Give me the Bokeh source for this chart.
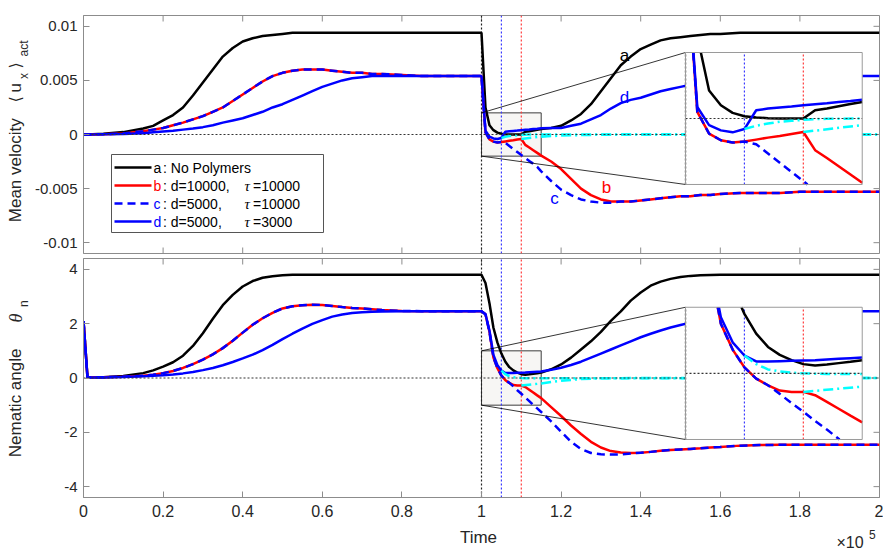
import math
import numpy as np
from bokeh.plotting import figure
from bokeh.models import Range1d, FixedTicker, LinearAxis, Label
from bokeh.layouts import column, row
from bokeh.embed import file_html
from bokeh.resources import INLINE

# ---------------- data ----------------
TIME = [0, 1000, 5000, 10000,
        15000, 17500, 20000, 22500, 25000, 27500, 30000, 32500, 35000, 37500, 40000, 42500,
        45000, 47500, 50000, 52500,
        55000, 57500, 60000, 62500, 65000, 67500, 70000, 72500, 75000,
        80000, 85000, 90000, 95000, 100000,
        101000, 102000, 103000, 104000, 105000, 106000, 107000, 108000, 109000, 110000,
        111000, 112000, 113000, 114000, 115000,
        117500, 120000, 122500, 125000, 127500, 130000, 132500, 135000, 137500, 140000,
        142500, 145000, 147500, 150000, 152500, 155000, 157500, 160000,
        165000, 170000, 175000, 180000, 185000, 190000, 195000, 200000]

VEL_A = [0, 0, 0.00007, 0.00022,
         0.00055, 0.0008, 0.0013, 0.0018, 0.0025, 0.0036, 0.0048, 0.006, 0.0072, 0.008, 0.0086, 0.0089,
         0.0091, 0.0092, 0.0093, 0.0094,
         0.0094, 0.0094, 0.0094, 0.0094, 0.0094, 0.0094, 0.0094, 0.0094, 0.0094,
         0.0094, 0.0094, 0.0094, 0.0094, 0.0094,
         0.0025, 0.00085, 0.0004, 0.00017, 0.00007, 0.00003, 0.00001, 0.0, 0.0, 0.0,
         0.00025, 0.0003, 0.00037, 0.00044, 0.0005,
         0.0006, 0.0008, 0.0013, 0.0019, 0.0028, 0.004, 0.0052, 0.0064, 0.0072, 0.0079,
         0.0083, 0.0087, 0.0089, 0.009, 0.0091, 0.0092, 0.0093, 0.0093,
         0.0094, 0.0094, 0.0094, 0.0094, 0.0094, 0.0094, 0.0094, 0.0094]
VEL_B = [0, 0, 0.00003, 0.0001,
         0.0003, 0.00045, 0.0006, 0.00085, 0.0011, 0.0014, 0.0017, 0.0021, 0.0025, 0.0031, 0.0037, 0.0043,
         0.0049, 0.0054, 0.0057, 0.0059,
         0.006, 0.006, 0.006, 0.0059, 0.0058, 0.0057, 0.0057, 0.0056, 0.0056,
         0.0055, 0.0054, 0.0054, 0.0054, 0.0054,
         0.0002, -0.00046, -0.00066, -0.00073, -0.0007, -0.00064, -0.00058, -0.00053, -0.00047, -0.00041,
         -0.00096, -0.0012, -0.00145, -0.0017, -0.00195,
         -0.0025, -0.0032, -0.0041, -0.005, -0.0056, -0.006, -0.0062, -0.0062, -0.0062, -0.0061,
         -0.006, -0.0059, -0.0058, -0.0057, -0.0057, -0.0056, -0.0056, -0.0055,
         -0.0054, -0.0054, -0.0054, -0.0053, -0.0053, -0.0053, -0.0053, -0.0053]
VEL_C = [0, 0, 0.00003, 0.0001,
         0.0003, 0.00045, 0.0006, 0.00085, 0.0011, 0.0014, 0.0017, 0.0021, 0.0025, 0.0031, 0.0037, 0.0043,
         0.0049, 0.0054, 0.0057, 0.0059,
         0.006, 0.006, 0.006, 0.0059, 0.0058, 0.0057, 0.0057, 0.0056, 0.0056,
         0.0055, 0.0054, 0.0054, 0.0054, 0.0054,
         0.0002, -0.00046, -0.00066, -0.00073, -0.0007, -0.00078, -0.00106, -0.00134, -0.00162, -0.0019,
         -0.00218, -0.00246, -0.0027, -0.003, -0.0034,
         -0.0043, -0.0051, -0.0056, -0.006, -0.0062, -0.0063, -0.0063, -0.0062, -0.0062, -0.0061,
         -0.006, -0.0059, -0.0058, -0.0057, -0.0057, -0.0056, -0.0056, -0.0055,
         -0.0054, -0.0054, -0.0054, -0.0053, -0.0053, -0.0053, -0.0053, -0.0053]
VEL_D = [0, 0, 0.00002, 0.00005,
         0.00012, 0.0002, 0.00028, 0.00035, 0.00045, 0.00055, 0.00068, 0.00085, 0.0011, 0.0013, 0.0015, 0.0018,
         0.0021, 0.0025, 0.0028, 0.0032,
         0.0036, 0.004, 0.0044, 0.0047, 0.005, 0.0052, 0.0053, 0.0054, 0.0054,
         0.0054, 0.0054, 0.0054, 0.0054, 0.0054,
         0.00035, -0.0002, -0.00036, -0.00042, -0.00032, 0.00025, 0.0003, 0.00033, 0.00036, 0.0004,
         0.00043, 0.00046, 0.0005, 0.00053, 0.00057,
         0.0006, 0.0006, 0.0008, 0.001, 0.0014, 0.0018, 0.0024, 0.0029, 0.0032, 0.0034,
         0.0037, 0.004, 0.0042, 0.0044, 0.0046, 0.0048, 0.005, 0.0051,
         0.0053, 0.0054, 0.0054, 0.0054, 0.0054, 0.0054, 0.0054, 0.0054]

ANG_A = [2.1, 0.03, 0.03, 0.07,
         0.18, 0.28, 0.42, 0.58, 0.82, 1.18, 1.65, 2.18, 2.68, 3.06, 3.37, 3.57,
         3.69, 3.75, 3.78, 3.8,
         3.8, 3.8, 3.8, 3.8, 3.8, 3.8, 3.8, 3.8, 3.8,
         3.8, 3.8, 3.8, 3.8, 3.8,
         3.5, 2.75, 1.85, 1.3, 0.9, 0.6, 0.4, 0.28, 0.2, 0.14,
         0.12, 0.135, 0.155, 0.175, 0.2,
         0.32, 0.5, 0.75, 1.05, 1.35, 1.7, 2.1, 2.45, 2.85, 3.15,
         3.4, 3.55, 3.65, 3.72, 3.76, 3.78, 3.79, 3.8,
         3.8, 3.8, 3.8, 3.8, 3.8, 3.8, 3.8, 3.8]
ANG_B = [2.1, 0.03, 0.03, 0.05,
         0.08, 0.12, 0.18, 0.26, 0.37, 0.51, 0.68, 0.87, 1.1, 1.37, 1.67, 1.96,
         2.2, 2.4, 2.56, 2.64,
         2.68, 2.7, 2.69, 2.65, 2.61, 2.58, 2.56, 2.53, 2.5,
         2.47, 2.46, 2.46, 2.46, 2.46,
         2.35, 1.7, 0.75, 0.36, 0.09, -0.08, -0.18, -0.26, -0.28, -0.28,
         -0.33, -0.43, -0.535, -0.64, -0.74,
         -1.07, -1.4, -1.75, -2.06, -2.35, -2.56, -2.69, -2.74, -2.76, -2.75,
         -2.72, -2.68, -2.65, -2.63, -2.61, -2.59, -2.56, -2.54,
         -2.49, -2.47, -2.46, -2.46, -2.46, -2.46, -2.46, -2.46]
ANG_C = [2.1, 0.03, 0.03, 0.05,
         0.08, 0.12, 0.18, 0.26, 0.37, 0.51, 0.68, 0.87, 1.1, 1.37, 1.67, 1.96,
         2.2, 2.4, 2.56, 2.64,
         2.68, 2.7, 2.69, 2.65, 2.61, 2.58, 2.56, 2.53, 2.5,
         2.47, 2.46, 2.46, 2.46, 2.46,
         2.35, 1.7, 0.75, 0.36, 0.09, -0.08, -0.18, -0.31, -0.45, -0.58,
         -0.72, -0.85, -0.99, -1.12, -1.25,
         -1.6, -1.98, -2.35, -2.62, -2.76, -2.81, -2.82, -2.81, -2.78, -2.75,
         -2.72, -2.68, -2.65, -2.63, -2.61, -2.59, -2.56, -2.54,
         -2.49, -2.47, -2.46, -2.46, -2.46, -2.46, -2.46, -2.46]
ANG_D = [2.1, 0.02, 0.02, 0.04,
         0.06, 0.08, 0.1, 0.13, 0.17, 0.22, 0.29, 0.37, 0.47, 0.59, 0.72, 0.86,
         1.03, 1.22, 1.43, 1.63,
         1.82, 1.99, 2.13, 2.26, 2.34, 2.39, 2.42, 2.44, 2.45,
         2.46, 2.46, 2.46, 2.46, 2.46,
         2.35, 1.75, 0.85, 0.47, 0.27, 0.18, 0.18, 0.185, 0.19, 0.195,
         0.2, 0.21, 0.22, 0.23, 0.24,
         0.3, 0.38, 0.48, 0.6, 0.75, 0.9, 1.05, 1.2, 1.35, 1.5,
         1.63, 1.75, 1.86, 1.95, 2.04, 2.12, 2.19, 2.25,
         2.35, 2.41, 2.44, 2.46, 2.46, 2.46, 2.46, 2.46]

# cyan continuation curves
TIME_CY1 = [105000, 106000, 107000, 108000, 109000, 110000, 111000, 112000, 115000, 200000]
VEL_CY1 = [-0.00032, -0.00022, -0.00015, -0.0001, -0.00007, -0.00004, -0.00002, -0.00001, 0.0, 0.0]
ANG_CY1 = [0.27, 0.14, 0.06, 0.03, 0.01, 0.0, -0.005, -0.01, -0.01, 0.0]
TIME_CY2 = [110000, 115000, 120000, 125000, 130000, 140000, 200000]
VEL_CY2 = [-0.00041, -0.0002, -0.0001, -0.00005, -0.00002, 0.0, 0.0]
ANG_CY2 = [-0.28, -0.2, -0.1, -0.04, -0.01, 0.0, 0.0]

# switching times (vertical dotted markers) and zoom windows
T_MARKS = [100000, 105000, 110000]
ZOOM_T = [100000, 115000]
ZOOM_VEL = [-0.002, 0.002]
ZOOM_ANG = [-1.0, 1.0]

X_TICKS = [0, 20000, 40000, 60000, 80000, 100000, 120000, 140000, 160000, 180000, 200000]
X_TICK_LABELS = ["0", "0.2", "0.4", "0.6", "0.8", "1", "1.2", "1.4", "1.6", "1.8", "2"]
VEL_TICKS = [-0.01, -0.005, 0.0, 0.005, 0.01]
VEL_TICK_LABELS = ["-0.01", "-0.005", "0", "0.005", "0.01"]
ANG_TICKS = [-4, -2, 0, 2, 4]
ANG_TICK_LABELS = ["-4", "-2", "0", "2", "4"]

LEGEND_LETTERS = ["a", "b", "c", "d"]
LEGEND_TEXT = [": No Polymers", ": d=10000,", ": d=5000,", ": d=5000,"]
LEGEND_TAU = [None, "=10000", "=10000", "=3000"]

# ---------------- styles / layout ----------------
X_RANGE = (0, 200000)
VEL_RANGE = (-0.011, 0.011)
ANG_RANGE = (-4.4, 4.4)
FRAME_W = 796
TOP_H = 238
BOT_H = 239
LEFT_W = 31
PAGE_FRAME_LEFT = 82
TOP_FRAME_TOP = 15
P1_H = 15 + TOP_H + 2
P2_H = 3 + BOT_H + 30
STRIP_H = 28
INSET_FX = (0.7563, 0.9783)
INSET_FY_TOP = (0.29, 0.8445)
INSET_FY_BOT = (0.2427, 0.796)
TICK_PX = 6

AX_COLOR = "#8c8c8c"
TXT = "#262626"
FONT = "Liberation Sans"
SERIES_STYLE = [("#000000", "solid"), ("#ff0000", "solid"), ("#0000ff", "8 5"), ("#0000ff", "solid")]
CYAN = "#00ffff"
CYAN_DASH = "10 4 2 4"
MARK_COLORS = ["#222222", "#3a3aff", "#ff3a3a"]
LW = 2.5


def X(px):
    return X_RANGE[0] + (px - PAGE_FRAME_LEFT) / FRAME_W * (X_RANGE[1] - X_RANGE[0])


def Yt(py):
    return VEL_RANGE[1] - (py - TOP_FRAME_TOP) / TOP_H * (VEL_RANGE[1] - VEL_RANGE[0])


def frac(rng, f):
    return rng[0] + f * (rng[1] - rng[0])


def inset_range(win, main, fr):
    b0, b1 = frac(main, fr[0]), frac(main, fr[1])
    k = (win[1] - win[0]) / (b1 - b0)
    return Range1d(win[0] - (b0 - main[0]) * k, win[1] + (main[1] - b1) * k)


def clip_line(xs, ys, x0, x1, y0, y1):
    ox, oy = [], []
    prev_full = False
    for i in range(len(xs) - 1):
        ax, ay, bx, by = xs[i], ys[i], xs[i + 1], ys[i + 1]
        dx, dy = bx - ax, by - ay
        t0, t1 = 0.0, 1.0
        ok = True
        for pp, qq in ((-dx, ax - x0), (dx, x1 - ax), (-dy, ay - y0), (dy, y1 - ay)):
            if pp == 0:
                if qq < 0:
                    ok = False
                    break
            else:
                r = qq / pp
                if pp < 0:
                    t0 = max(t0, r)
                else:
                    t1 = min(t1, r)
        if not ok or t0 > t1:
            prev_full = False
            continue
        c0 = (ax + t0 * dx, ay + t0 * dy)
        c1 = (ax + t1 * dx, ay + t1 * dy)
        if prev_full and t0 == 0.0:
            ox.append(c1[0]); oy.append(c1[1])
        else:
            if ox:
                ox.append(float("nan")); oy.append(float("nan"))
            ox += [c0[0], c1[0]]; oy += [c0[1], c1[1]]
        prev_full = (t1 == 1.0)
    return np.array(ox, dtype=float), np.array(oy, dtype=float)


def new_fig(yr, fh, bt, bb):
    p = figure(frame_width=FRAME_W, frame_height=fh,
               x_range=Range1d(*X_RANGE), y_range=Range1d(*yr),
               x_axis_location=None, y_axis_location=None,
               output_backend="svg", toolbar_location=None,
               min_border_left=PAGE_FRAME_LEFT - LEFT_W, min_border_right=5,
               min_border_top=bt, min_border_bottom=bb)
    p.grid.visible = False
    p.outline_line_color = AX_COLOR
    p.outline_line_width = 1
    return p


def text_fig(w, h, xr, yr):
    p = figure(width=w, height=h, x_range=Range1d(*xr), y_range=Range1d(*yr),
               x_axis_location=None, y_axis_location=None,
               output_backend="svg", toolbar_location=None, min_border=0)
    p.grid.visible = False
    p.outline_line_color = None
    return p


def style_axis(ax, size):
    ax.axis_line_color = AX_COLOR
    ax.major_tick_line_color = AX_COLOR
    ax.major_tick_in = TICK_PX
    ax.major_tick_out = 0
    ax.minor_tick_line_color = None
    ax.major_label_text_font = FONT
    ax.major_label_text_font_size = size
    ax.major_label_text_color = TXT


def mirror_ticks(p, yr, fh, y_ticks, bottom):
    dy = TICK_PX / fh * (yr[1] - yr[0])
    dx = TICK_PX / FRAME_W * (X_RANGE[1] - X_RANGE[0])
    x0s, y0s, x1s, y1s = [], [], [], []
    for t in X_TICKS:
        x0s.append(t); y0s.append(yr[1]); x1s.append(t); y1s.append(yr[1] - dy)
        if bottom:
            x0s.append(t); y0s.append(yr[0]); x1s.append(t); y1s.append(yr[0] + dy)
    for v in y_ticks:
        x0s.append(X_RANGE[1]); y0s.append(v); x1s.append(X_RANGE[1] - dx); y1s.append(v)
    p.segment(x0s, y0s, x1s, y1s, line_color=AX_COLOR, line_width=1)


def draw_panel(p, yr, fh, series, cyans, zoom_y, inset_fy, y_ticks, y_labels, bottom_ticks):
    ax = LinearAxis(ticker=FixedTicker(ticks=y_ticks),
                    major_label_overrides={t: l for t, l in zip(y_ticks, y_labels)})
    style_axis(ax, "15px")
    ax.major_label_standoff = 6
    p.add_layout(ax, "left")
    mirror_ticks(p, yr, fh, y_ticks, bottom_ticks)

    p.quad(left=ZOOM_T[0], right=ZOOM_T[1], bottom=zoom_y[0], top=zoom_y[1],
           fill_color="#f7f6f4", line_color="#3c3c3c", line_width=1)
    for t, c in zip(T_MARKS, MARK_COLORS):
        p.line([t, t], [yr[0], yr[1]], line_color=c, line_width=1.2, line_dash="2 2")
    for (xs, ys), (col, dash) in zip(series, SERIES_STYLE):
        p.line(xs, ys, line_color=col, line_width=LW, line_dash=dash)
    for xs, ys in cyans:
        p.line(xs, ys, line_color=CYAN, line_width=LW, line_dash=CYAN_DASH)
    p.line([X_RANGE[0], X_RANGE[1]], [0, 0], line_color="#333333", line_width=1.2, line_dash="2 2")

    bx0, bx1 = frac(X_RANGE, INSET_FX[0]), frac(X_RANGE, INSET_FX[1])
    by0, by1 = frac(yr, inset_fy[0]), frac(yr, inset_fy[1])
    p.segment([ZOOM_T[0], ZOOM_T[0]], [zoom_y[1], zoom_y[0]], [bx0, bx0], [by1, by0],
              line_color="#000000", line_width=0.8)
    p.quad(left=bx0, right=bx1, bottom=by0, top=by1, fill_color="white", line_color=None)

    p.extra_x_ranges["ix"] = inset_range(ZOOM_T, X_RANGE, INSET_FX)
    p.extra_y_ranges["iy"] = inset_range(zoom_y, yr, inset_fy)
    kw = dict(x_range_name="ix", y_range_name="iy")
    for t, c in zip(T_MARKS, MARK_COLORS):
        p.line([t, t], [zoom_y[0], zoom_y[1]], line_color=c, line_width=1.2, line_dash="2 2", **kw)
    for (xs, ys), (col, dash) in zip(series, SERIES_STYLE):
        cx, cy = clip_line(xs, ys, ZOOM_T[0], ZOOM_T[1], zoom_y[0], zoom_y[1])
        p.line(cx, cy, line_color=col, line_width=LW, line_dash=dash, **kw)
    for xs, ys in cyans:
        cx, cy = clip_line(xs, ys, ZOOM_T[0], ZOOM_T[1], zoom_y[0], zoom_y[1])
        p.line(cx, cy, line_color=CYAN, line_width=LW, line_dash=CYAN_DASH, **kw)
    p.line([ZOOM_T[0], ZOOM_T[1]], [0, 0], line_color="#333333", line_width=1.2, line_dash="2 2", **kw)
    p.line([ZOOM_T[0], ZOOM_T[0]], [zoom_y[0], zoom_y[1]], line_color="#333333", line_width=1.2,
           line_dash="2 2", **kw)
    p.quad(left=bx0, right=bx1, bottom=by0, top=by1, fill_color=None, line_color="#9a9a9a", line_width=1)


def lbl(p, x, y, text, size="16px", color=TXT, align="left", angle=0.0, font=FONT, style="normal"):
    p.add_layout(Label(x=x, y=y, text=text, text_font=font, text_font_size=size,
                       text_color=color, text_align=align, text_baseline="middle",
                       angle=angle, text_font_style=style))


# ---------------- top panel ----------------
p1 = new_fig(VEL_RANGE, TOP_H, 15, 2)
draw_panel(p1, VEL_RANGE, TOP_H,
           [(TIME, VEL_A), (TIME, VEL_B), (TIME, VEL_C), (TIME, VEL_D)],
           [(TIME_CY1, VEL_CY1), (TIME_CY2, VEL_CY2)],
           ZOOM_VEL, INSET_FY_TOP, VEL_TICKS, VEL_TICK_LABELS, True)

# legend
p1.quad(left=X(110), right=X(322), top=Yt(154), bottom=Yt(232),
        fill_color="white", line_color="#555555", line_width=1)
ROW_PY = [167, 185, 203, 221]
LETTER_COLORS = ["#000000", "#ff0000", "#0000ff", "#0000ff"]
for i, (letter, text, tau) in enumerate(zip(LEGEND_LETTERS, LEGEND_TEXT, LEGEND_TAU)):
    yy = Yt(ROW_PY[i])
    col, dash = SERIES_STYLE[i]
    p1.line([X(113), X(150)], [yy, yy], line_color=col, line_width=LW, line_dash=dash)
    lbl(p1, X(152), yy, letter, "14px", LETTER_COLORS[i])
    lbl(p1, X(161.5), yy, text, "14px", "#000000")
    if tau:
        lbl(p1, X(243), yy, "τ", "15px", "#000000", font="Liberation Serif", style="italic")
        lbl(p1, X(251.5), yy, tau, "14px", "#000000")

lbl(p1, X(623), Yt(55), "a", "17px", "#000000", "center")
lbl(p1, X(623), Yt(97), "d", "17px", "#0000ff", "center")
lbl(p1, X(605), Yt(187), "b", "17px", "#ff0000", "center")
lbl(p1, X(553), Yt(198), "c", "17px", "#0000ff", "center")

# ---------------- bottom panel ----------------
p2 = new_fig(ANG_RANGE, BOT_H, 3, 30)
draw_panel(p2, ANG_RANGE, BOT_H,
           [(TIME, ANG_A), (TIME, ANG_B), (TIME, ANG_C), (TIME, ANG_D)],
           [(TIME_CY1, ANG_CY1), (TIME_CY2, ANG_CY2)],
           ZOOM_ANG, INSET_FY_BOT, ANG_TICKS, ANG_TICK_LABELS, False)
xa = LinearAxis(ticker=FixedTicker(ticks=X_TICKS),
                major_label_overrides={t: l for t, l in zip(X_TICKS, X_TICK_LABELS)})
style_axis(xa, "16px")
xa.major_label_standoff = 7
p2.add_layout(xa, "below")

# ---------------- y-axis titles (left strip, y = page pixels) ----------------
H_LEFT = P1_H + P2_H
pl = text_fig(LEFT_W, H_LEFT, (0, LEFT_W), (H_LEFT, 0))
R = math.pi / 2
lbl(pl, 15, 221.7, "Mean velocity", "17px", TXT, angle=R)
lbl(pl, 15, 102, "⟨", "16px", TXT, angle=R, font="DejaVu Sans")
lbl(pl, 15, 92, "u", "17px", TXT, angle=R)
lbl(pl, 23, 78.5, "x", "12px", TXT, angle=R)
lbl(pl, 15, 68, "⟩", "16px", TXT, angle=R, font="DejaVu Sans")
lbl(pl, 23, 56, "act", "12px", TXT, angle=R)
lbl(pl, 15, 456.7, "Nematic angle", "17px", TXT, angle=R)
lbl(pl, 15, 322, "θ", "18px", TXT, angle=R, font="Liberation Serif", style="italic")
lbl(pl, 23, 306.5, "n", "12px", TXT, angle=R)

# ---------------- x-axis title strip (coordinates = page pixels) ----------------
W_ALL = LEFT_W + (PAGE_FRAME_LEFT - LEFT_W) + FRAME_W + 5
ps = text_fig(W_ALL, STRIP_H, (0, W_ALL), (H_LEFT + STRIP_H, H_LEFT))
lbl(ps, 478, 537, "Time", "17px", TXT, "center")
lbl(ps, 836, 541.7, "×10", "16px", TXT)
lbl(ps, 868.5, 533.5, "5", "12px", TXT)

layout = column(row(pl, column(p1, p2, spacing=0), spacing=0), ps, spacing=0)
open("out.html", "w").write(file_html(layout, INLINE))
